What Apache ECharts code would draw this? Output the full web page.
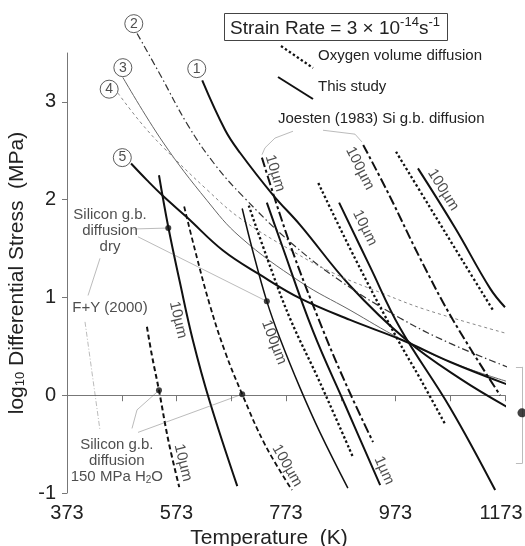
<!DOCTYPE html>
<html><head><meta charset="utf-8">
<script src="https://cdn.jsdelivr.net/npm/echarts@6/dist/echarts.min.js"></script>
<style>html,body{margin:0;padding:0;background:#fff}#c{width:525px;height:546px}</style>
</head><body><div id="c"></div>
<script>
const FONT = '"Liberation Sans", Arial, Helvetica, sans-serif';

// axes
const xTicks = [373, 473, 573, 673, 773, 873, 973, 1073, 1173];
const xLabels = [373, 573, 773, 973, 1173];
const yTicks = [-1, 0, 1, 2, 3];

// numbered dislocation-creep curves (T in K, log10 stress in MPa)
const c1T = [620, 662, 689, 749, 799, 890, 994, 1091, 1177];
const c1S = [3.22, 2.71, 2.48, 2.05, 1.74, 1.12, 0.56, 0.17, -0.12];
const c2T = [501, 543, 594, 643, 695, 780, 872, 981, 1073, 1177];
const c2S = [3.70, 3.28, 2.76, 2.36, 2.03, 1.57, 1.17, 0.79, 0.53, 0.29];
const c3T = [475, 548, 629, 689, 799, 890, 981, 1073, 1177];
const c3S = [3.25, 2.59, 1.99, 1.62, 1.16, 0.87, 0.58, 0.34, 0.14];
const c4T = [466, 506, 548, 629, 689, 786, 859, 950, 1031, 1177];
const c4S = [3.09, 2.80, 2.54, 2.10, 1.81, 1.47, 1.25, 1.04, 0.87, 0.63];
const c5T = [490, 519, 548, 592, 658, 726, 799, 890, 987, 1073, 1177];
const c5S = [2.37, 2.20, 2.04, 1.82, 1.48, 1.23, 0.99, 0.77, 0.56, 0.34, 0.11];

// F+Y (2000) silicon g.b. diffusion, dry and 150 MPa H2O
const fyDry10T = [541, 558, 579, 603, 634, 684];
const fyDry10S = [2.25, 1.72, 1.16, 0.56, -0.07, -0.93];
const fyDry100T = [693, 713, 738, 762, 799, 835, 886];
const fyDry100S = [1.91, 1.46, 0.96, 0.58, 0.07, -0.38, -0.95];
const fyWet10T = [519, 528, 541, 558, 578];
const fyWet10S = [0.70, 0.41, 0.05, -0.46, -0.94];
const fyWet100T = [587, 607, 634, 662, 693, 735, 784];
const fyWet100S = [1.93, 1.48, 0.92, 0.44, 0.01, -0.51, -0.97];
const fyDotT = [558, 738, 541, 693];
const fyDotS = [1.71, 0.96, 0.05, 0.01];

// Oxygen volume diffusion
const ox1T = [705, 740, 780, 835, 895];
const ox1S = [1.94, 1.38, 0.79, 0.13, -0.63];
const ox10T = [832, 899, 976, 1018, 1063];
const ox10S = [2.17, 1.40, 0.58, 0.17, -0.29];
const ox100T = [974, 1036, 1095, 1151];
const ox100S = [2.49, 1.92, 1.38, 0.87];

// This study
const ts1T = [738, 762, 822, 881, 945];
const ts1S = [1.97, 1.59, 0.66, -0.10, -0.92];
const ts10T = [870, 926, 981, 1073, 1155];
const ts10S = [1.97, 1.32, 0.69, -0.13, -0.97];
const ts100T = [1014, 1082, 1146, 1173];
const ts100S = [2.32, 1.71, 1.09, 0.90];

// Joesten (1983) Si g.b. diffusion
const jo10T = [729, 780, 841, 886, 932];
const jo10S = [2.43, 1.55, 0.66, 0.07, -0.48];
const jo100T = [914, 963, 1018, 1078, 1164];
const jo100S = [2.56, 2.03, 1.40, 0.77, 0.00];

// error bar
const errT = 1204, errMid = -0.18, errHi = 0.29, errLo = -0.70;

// circled curve numbers
const circNames = ['1', '2', '3', '4', '5'];
const circT = [610, 495, 475, 450, 474];
const circS = [3.34, 3.80, 3.35, 3.13, 2.43];

// grain size labels
const sizeText = ['10µm', '100µm', '10µm', '100µm', '10µm', '100µm', '10µm', '100µm', '1µm'];
const sizeT = [576, 751, 585, 775, 753, 908, 917, 1060, 952];
const sizeS = [0.77, 0.54, -0.69, -0.72, 2.27, 2.32, 1.71, 2.10, -0.77];
const sizeRot = [-77, -69, -76, -60, -73, -63, -64, -58, -66];

// annotation texts
const noteText = ['Silicon g.b.\ndiffusion\ndry', 'F+Y (2000)', 'Silicon g.b.\ndiffusion\n150 MPa H{s|2}O'];
const noteT = [451.5, 451.5, 464];
const noteS = [1.68, 0.89, -0.675];

// leader lines / arrows (data coords)
const leaders = [
  [[493.5, 1.70], [558, 1.71]],
  [[502.7, 1.62], [738, 0.96]],
  [[491.7, -0.34], [500.9, -0.15], [541, 0.05]],
  [[502.7, -0.38], [693, 0.01]]
];
const arrowsSolid = [
  [[411.4, 1.02], [433.3, 1.40]],
  [[785.8, 2.70], [752.9, 2.63], [734.6, 2.53], [729.2, 2.46]],
  [[840.6, 2.71], [899, 2.67], [911.8, 2.59]]
];
const arrowsDash = [
  [[405.9, 0.75], [433.3, -0.36]]
];

const pts = (T, S) => T.map((t, i) => [t, S[i]]);

function curve(T, S, color, width, type, smooth) {
  return {
    type: 'line', data: pts(T, S), smooth: smooth === undefined ? 0.4 : smooth,
    showSymbol: false, symbol: 'none', clip: false, silent: true, z: 3,
    lineStyle: { color: color, width: width, type: type || 'solid', cap: 'butt' }
  };
}

const DOT = [2.4, 2.4];
const LDASH = [10, 3, 3, 3];
const DASH = [5, 3];

const series = [
  curve(c1T, c1S, '#111', 2, 'solid'),
  curve(c2T, c2S, '#333', 1.2, [7, 3, 1.5, 3]),
  curve(c3T, c3S, '#666', 1, 'solid'),
  curve(c4T, c4S, '#888', 1, [3, 3]),
  curve(c5T, c5S, '#111', 2, 'solid'),
  curve(fyDry10T, fyDry10S, '#111', 2, 'solid'),
  curve(fyDry100T, fyDry100S, '#111', 1.5, 'solid'),
  curve(fyWet10T, fyWet10S, '#111', 2, DASH),
  curve(fyWet100T, fyWet100S, '#111', 1.8, DASH),
  curve(ox1T, ox1S, '#111', 2.3, DOT),
  curve(ox10T, ox10S, '#111', 2.3, DOT),
  curve(ox100T, ox100S, '#111', 2.3, DOT),
  curve(ts1T, ts1S, '#111', 2, 'solid'),
  curve(ts10T, ts10S, '#111', 2, 'solid'),
  curve(ts100T, ts100S, '#111', 2, 'solid'),
  curve(jo10T, jo10S, '#111', 2, LDASH),
  curve(jo100T, jo100S, '#111', 2, LDASH),
  {
    type: 'lines', coordinateSystem: 'cartesian2d', polyline: true, silent: true, z: 4,
    data: leaders.map(c => ({ coords: c })),
    lineStyle: { color: '#555', width: 0.8 }, symbol: 'none'
  },
  {
    type: 'lines', coordinateSystem: 'cartesian2d', polyline: true, silent: true, z: 4,
    data: arrowsSolid.map(c => ({ coords: c })),
    lineStyle: { color: '#555', width: 0.8 }, symbol: ['none', 'arrow'], symbolSize: 7
  },
  {
    type: 'lines', coordinateSystem: 'cartesian2d', polyline: true, silent: true, z: 4,
    data: arrowsDash.map(c => ({ coords: c })),
    lineStyle: { color: '#555', width: 0.8, type: [5, 2, 1, 2] }, symbol: ['none', 'arrow'], symbolSize: 7
  },
  {
    type: 'lines', coordinateSystem: 'cartesian2d', silent: true, clip: false, z: 4,
    data: [
      { coords: [[errT, errHi], [errT, errLo]] },
      { coords: [[errT - 11, errHi], [errT, errHi]] },
      { coords: [[errT - 11, errLo], [errT, errLo]] }
    ],
    lineStyle: { color: '#777', width: 1 }, symbol: 'none'
  },
  {
    type: 'scatter', silent: true, clip: false, z: 5,
    data: [[errT, errMid]], symbolSize: 9, itemStyle: { color: '#111' }
  },
  {
    type: 'scatter', silent: true, clip: false, z: 5,
    data: pts(fyDotT, fyDotS), symbolSize: 6, itemStyle: { color: '#111' }
  },
  {
    type: 'scatter', silent: true, clip: false, z: 6,
    data: circNames.map((n, i) => ({ name: n, value: [circT[i], circS[i]] })),
    symbol: 'circle', symbolSize: 18,
    itemStyle: { color: '#fff', borderColor: '#333', borderWidth: 1 },
    label: { show: true, position: 'inside', formatter: '{b}', fontFamily: FONT, fontSize: 14, color: '#222' }
  },
  {
    type: 'scatter', silent: true, clip: false, z: 6,
    data: sizeText.map((t, i) => ({ name: t, value: [sizeT[i], sizeS[i]], label: { rotate: sizeRot[i] } })),
    symbolSize: 1, itemStyle: { color: 'rgba(0,0,0,0)' },
    label: { show: true, position: 'inside', formatter: '{b}', fontFamily: FONT, fontSize: 15, color: '#222' }
  },
  {
    type: 'scatter', silent: true, clip: false, z: 6,
    data: noteText.map((t, i) => ({ name: t, value: [noteT[i], noteS[i]] })),
    symbolSize: 1, itemStyle: { color: 'rgba(0,0,0,0)' },
    label: {
      show: true, position: 'inside', formatter: '{b}', fontFamily: FONT, fontSize: 15,
      lineHeight: 16, color: '#222', align: 'center',
      rich: { s: { fontSize: 10, lineHeight: 10, verticalAlign: 'bottom', fontFamily: FONT, color: '#222' } }
    }
  }
];

const chart = echarts.init(document.getElementById('c'), null, { renderer: 'canvas' });
chart.setOption({
  animation: false,
  backgroundColor: '#fff',
  grid: { left: 67, right: 20, top: 53, bottom: 53, containLabel: false, outerBoundsMode: 'none' },
  xAxis: {
    type: 'value', min: 373, max: 1173,
    name: 'Temperature  (K)', nameLocation: 'middle', nameGap: 27,
    nameTextStyle: { fontFamily: FONT, fontSize: 21, color: '#222', padding: [0, 34, 0, 0], verticalAlign: 'top' },
    axisLine: { lineStyle: { color: '#777', width: 1 } },
    axisTick: { customValues: xTicks, length: 6, lineStyle: { color: '#777' } },
    axisLabel: {
      customValues: xLabels, fontFamily: FONT, fontSize: 20, color: '#222', margin: 10,
      formatter: v => (v === 1173 ? '{r|' + String(v) + '}' : String(v)),
      rich: { r: { fontFamily: FONT, fontSize: 20, color: '#222', padding: [0, 8, 0, 0] } }
    },
    splitLine: { show: false }
  },
  yAxis: {
    type: 'value', min: -1, max: 3.5,
    name: '{a|log}{s|10}{a| Differential Stress  (MPa)}', nameLocation: 'middle', nameGap: 32,
    nameTextStyle: {
      rich: {
        a: { fontFamily: FONT, fontSize: 21, color: '#222', lineHeight: 24, verticalAlign: 'bottom' },
        s: { fontFamily: FONT, fontSize: 13, color: '#222', lineHeight: 12, verticalAlign: 'bottom' }
      }
    },
    axisLine: { show: true, lineStyle: { color: '#777', width: 1 } },
    axisTick: { show: true, customValues: yTicks, length: 5, lineStyle: { color: '#777' } },
    axisLabel: { customValues: yTicks, fontFamily: FONT, fontSize: 20, color: '#222', margin: 11, formatter: v => String(v) },
    splitLine: { show: false }
  },
  graphic: [
    { type: 'rect', shape: { x: 224.5, y: 13.5, width: 223, height: 27 }, style: { fill: '#fff', stroke: '#444', lineWidth: 1 } },
    {
      type: 'text', x: 335, y: 27,
      style: {
        text: '{a|Strain Rate = 3 × 10}{b|-14}{a|s}{b|-1}', align: 'center', verticalAlign: 'middle',
        rich: {
          a: { fontFamily: FONT, fontSize: 19, fill: '#222', lineHeight: 22, verticalAlign: 'bottom' },
          b: { fontFamily: FONT, fontSize: 13, fill: '#222', lineHeight: 13, verticalAlign: 'top' }
        }
      }
    },
    { type: 'line', shape: { x1: 281, y1: 46, x2: 313, y2: 68 }, style: { stroke: '#111', lineWidth: 2.3, lineDash: DOT } },
    { type: 'text', x: 318, y: 56, style: { text: 'Oxygen volume diffusion', fontFamily: FONT, fontSize: 15, fill: '#222', verticalAlign: 'middle' } },
    { type: 'line', shape: { x1: 278, y1: 77, x2: 313, y2: 99 }, style: { stroke: '#111', lineWidth: 2 } },
    { type: 'text', x: 318, y: 87, style: { text: 'This study', fontFamily: FONT, fontSize: 15, fill: '#222', verticalAlign: 'middle' } },
    { type: 'text', x: 278, y: 119, style: { text: 'Joesten (1983) Si g.b. diffusion', fontFamily: FONT, fontSize: 15, fill: '#222', verticalAlign: 'middle' } }
  ],
  series: series
});
</script>
</body></html>
